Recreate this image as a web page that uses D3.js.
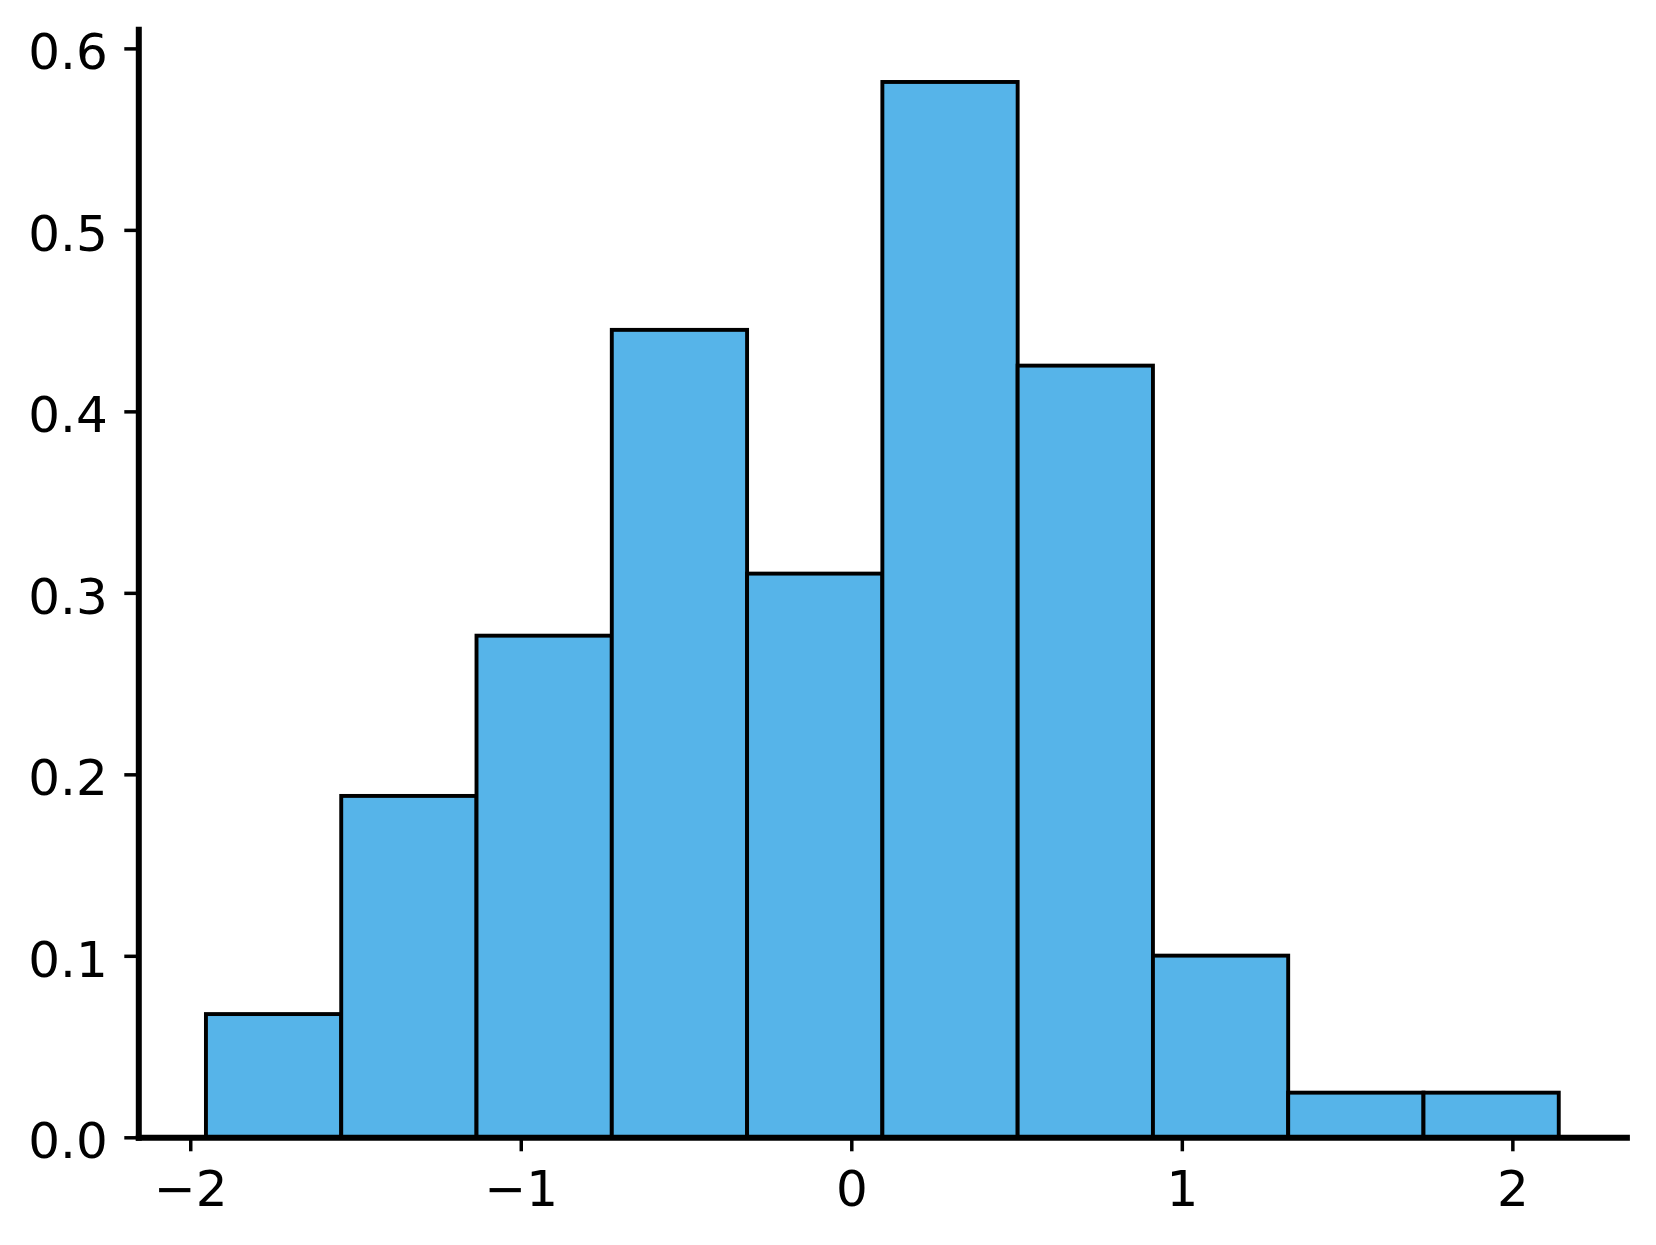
<!DOCTYPE html>
<html>
<head>
<meta charset="utf-8">
<script src="https://cdn.jsdelivr.net/npm/d3@7"></script>
<style>
  html, body { margin: 0; padding: 0; background: #ffffff; }
  svg { display: block; }
  text { font-family: "DejaVu Sans", sans-serif; }
</style>
</head>
<body>
<svg id="chart" width="1656" height="1245"></svg>
<script>
// ---- data ----
const binEdges = [-1.9525, -1.5432, -1.1339, -0.7246, -0.3153, 0.0940, 0.5033, 0.9126, 1.3218, 1.7311, 2.1404];
const densities = [0.0679, 0.1881, 0.2764, 0.4449, 0.3106, 0.5815, 0.4252, 0.1001, 0.0246, 0.0246];
const xTickValues = [-2, -1, 0, 1, 2];
const xTickLabels = ["\u22122", "\u22121", "0", "1", "2"];
const yTickValues = [0.0, 0.1, 0.2, 0.3, 0.4, 0.5, 0.6];
const yTickLabels = ["0.0", "0.1", "0.2", "0.3", "0.4", "0.5", "0.6"];

const bins = densities.map((d, i) => ({ x0: binEdges[i], x1: binEdges[i + 1], v: d }));

// ---- layout ----
const svg = d3.select("#chart");
const plotLeft = 138.3, plotRight = 1626.4, plotTop = 29.2, plotBottom = 1137.3;

const span = binEdges[binEdges.length - 1] - binEdges[0];
const pad = span * 0.05;
const x = d3.scaleLinear()
  .domain([binEdges[0] - pad, binEdges[binEdges.length - 1] + pad])
  .range([plotLeft, plotRight]);
const y = d3.scaleLinear()
  .domain([0, d3.max(densities) * 1.05])
  .range([plotBottom, plotTop]);

// ---- bars ----
svg.append("g")
  .selectAll("rect")
  .data(bins)
  .join("rect")
  .attr("x", d => x(d.x0))
  .attr("y", d => y(d.v))
  .attr("width", d => x(d.x1) - x(d.x0))
  .attr("height", d => y(0) - y(d.v))
  .attr("fill", "#56B4E9")
  .attr("stroke", "#000000")
  .attr("stroke-width", 3.9);

// ---- axes ----
const fontSize = 50;
const tickLen = 14;

const xAxis = d3.axisBottom(x)
  .tickValues(xTickValues)
  .tickFormat((d, i) => xTickLabels[i])
  .tickSize(tickLen)
  .tickSizeOuter(0)
  .tickPadding(19.5);

const yAxis = d3.axisLeft(y)
  .tickValues(yTickValues)
  .tickFormat((d, i) => yTickLabels[i])
  .tickSize(tickLen)
  .tickSizeOuter(0)
  .tickPadding(16.5);

const gx = svg.append("g")
  .attr("transform", `translate(0,${plotBottom})`)
  .call(xAxis);
const gy = svg.append("g")
  .attr("transform", `translate(${plotLeft},0)`)
  .call(yAxis);

[gx, gy].forEach(g => {
  g.select(".domain")
    .attr("stroke", "#000")
    .attr("stroke-width", 6)
    .attr("stroke-linecap", "square");
  g.selectAll(".tick line")
    .attr("stroke", "#000")
    .attr("stroke-width", 3.5);
  g.selectAll(".tick text")
    .attr("fill", "#000")
    .style("font-family", "'DejaVu Sans', sans-serif")
    .style("font-size", fontSize + "px");
});
gy.selectAll(".tick text").attr("dy", "0.41em");
gx.selectAll(".tick text").attr("dy", "0.71em");
</script>
</body>
</html>
